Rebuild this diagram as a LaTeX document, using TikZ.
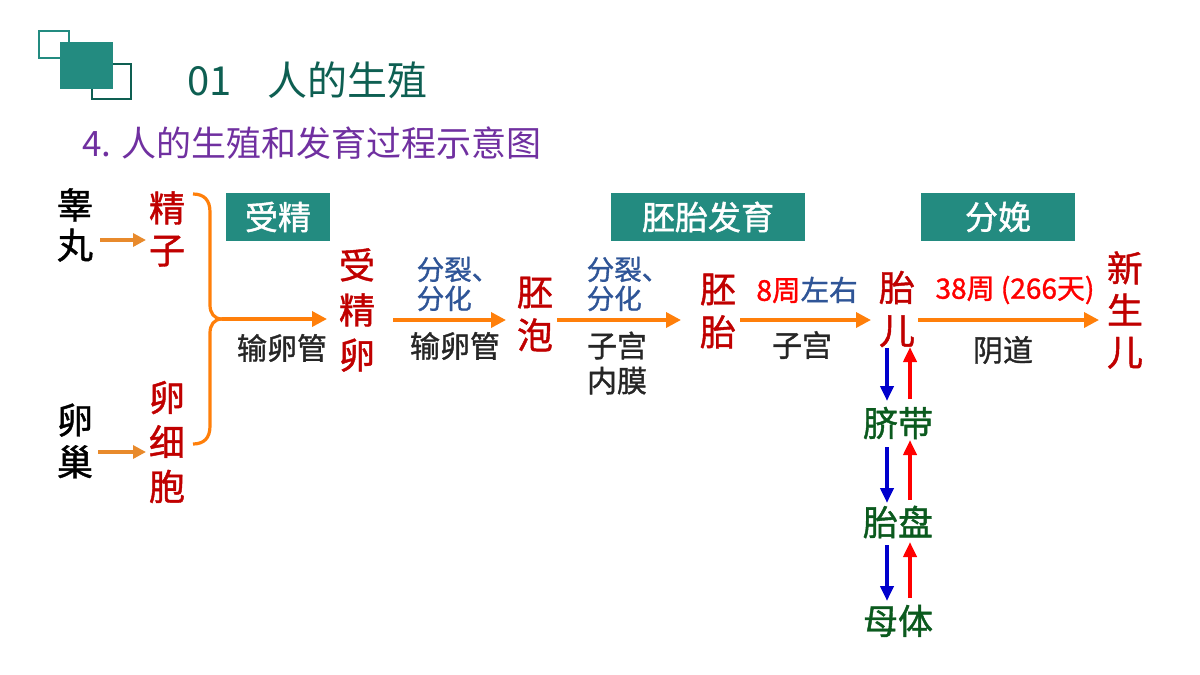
\documentclass[tikz,border=0pt]{standalone}
\usepackage{fontspec}
\setmainfont{Noto Sans CJK SC}
\newfontfamily\dfont{Noto Sans CJK SC}[FakeBold=1.2]
\usetikzlibrary{arrows.meta}
\definecolor{teal1}{HTML}{238B80}
\definecolor{teal2}{HTML}{0E5F52}
\definecolor{dred}{HTML}{C00000}
\definecolor{rred}{HTML}{FF0000}
\definecolor{dblue}{HTML}{2F5597}
\definecolor{orng}{HTML}{FF7F0A}
\definecolor{orng2}{HTML}{E88A2C}
\definecolor{purp}{HTML}{7030A0}
\definecolor{dgreen}{HTML}{0B5A1E}
\definecolor{dgray}{HTML}{262626}
\definecolor{bblue}{HTML}{0000CC}
\tikzset{
  organ/.style={font=\dfont\fontsize{36}{40}\selectfont, text=black, align=center, inner sep=0pt},
  stage/.style={font=\dfont\fontsize{36}{43}\selectfont, text=dred, align=center, inner sep=0pt},
  place/.style={font=\dfont\fontsize{30}{35}\selectfont, text=dgray, align=center, inner sep=0pt},
  proc/.style={font=\dfont\fontsize{27.5}{29}\selectfont, text=dblue, align=left, inner sep=0pt},
  tbox/.style={fill=teal1, text=white, font=\dfont\fontsize{33}{35}\selectfont, inner sep=0pt, minimum height=48pt},
  flow/.style={draw=orng, line width=3.5pt, -{Triangle[length=15pt,width=15pt]}},
  sflow/.style={draw=orng2, line width=3.5pt, -{Triangle[length=13pt,width=13pt]}},
  nut/.style={font=\dfont\fontsize{35}{37}\selectfont, text=dgreen, inner sep=0pt},
  bdown/.style={draw=bblue, line width=4.3pt, -{Triangle[length=15pt,width=13pt]}},
  rup/.style={draw=rred, line width=4.3pt, -{Triangle[length=15pt,width=13pt]}},
}
\begin{document}
\begin{tikzpicture}[x=1pt,y=-1pt]
\useasboundingbox (0,0) rectangle (1200,675);
% title decoration
\draw[teal1, line width=2.2pt] (39,31) rectangle (69,58);
\draw[teal2, line width=2.2pt] (92,64) rectangle (131,99);
\fill[teal1] (60,42) rectangle (113,89);
\node[anchor=west, text=teal2, font=\fontsize{40}{42}\selectfont, inner sep=0pt] (title) at (187,80) {01\hspace{36pt}人的生殖};
\node[anchor=west, text=purp, font=\fontsize{35}{37}\selectfont, inner sep=0pt] (sub) at (82,143) {4. 人的生殖和发育过程示意图};
% organs
\node[organ] (testis) at (75,225) {睾\\丸};
\node[organ, font=\dfont\fontsize{36}{42}\selectfont] (ovary) at (75,441) {卵\\巢};
\node[stage, font=\dfont\fontsize{36}{42}\selectfont] (sperm) at (167,229) {精\\子};
\node[stage, font=\dfont\fontsize{36}{44.5}\selectfont] (egg) at (167,442) {卵\\细\\胞};
\coordinate (ta) at (100,240);
\coordinate (tb) at (146,240);
\coordinate (oa) at (98,452);
\coordinate (ob) at (146,452);
\draw[sflow] (ta) -- (tb);
\draw[sflow] (oa) -- (ob);
% brace
\coordinate (br1) at (193,194);
\coordinate (br2) at (193,444);
\coordinate (brm) at (222,319);
\coordinate (brt) at (327,319);
\draw[orng, line width=3.2pt, line join=round] (br1) .. controls (204,194) and (210,200) .. (210,212) -- (210,305) .. controls (210,313) and (214,319) .. (222,319);
\draw[orng, line width=3.2pt, line join=round] (br2) .. controls (204,444) and (210,438) .. (210,426) -- (210,333) .. controls (210,325) and (214,319) .. (222,319);
\draw[flow] (brm) -- (brt);
% stages
\node[stage, font=\dfont\fontsize{36}{45}\selectfont] (zyg) at (357,310) {受\\精\\卵};
\node[place] (ovi1) at (282,348) {输卵管};
\node[tbox, minimum width=104pt] (b1) at (278,217) {受精};
\node[stage] (blast) at (535,314) {胚\\泡};
\node[stage] (embryo) at (718,311) {胚\\胎};
\node[stage] (fetus) at (897,309) {胎\\儿};
\node[stage, font=\dfont\fontsize{36}{42}\selectfont] (baby) at (1125,310) {新\\生\\儿};
\node[tbox, minimum width=194pt] (b2) at (708,217) {胚胎发育};
\node[tbox, minimum width=154pt] (b3) at (998,217) {分娩};
% arrows between stages
\coordinate (a1s) at (393,320);
\coordinate (a1e) at (506,320);
\draw[flow] (a1s) -- (a1e);
\node[proc] (p1) at (458,284) {分裂、\\分化};
\node[place] (ovi2) at (455,346) {输卵管};
\coordinate (a2s) at (557,320);
\coordinate (a2e) at (681,320);
\draw[flow] (a2s) -- (a2e);
\node[proc] (p2) at (628,284) {分裂、\\分化};
\node[place, align=left] (ut1) at (617,363) {子宫\\内膜};
\coordinate (a3s) at (740,320);
\coordinate (a3e) at (871,320);
\draw[flow] (a3s) -- (a3e);
\node[inner sep=0pt, font=\dfont\fontsize{28.5}{30}\selectfont] (w8) at (807,290) {\textcolor{rred}{8周}\textcolor{dblue}{左右}};
\node[place] (ut2) at (802,345) {子宫};
\coordinate (a4s) at (918,320);
\coordinate (a4e) at (1099,320);
\draw[flow] (a4s) -- (a4e);
\node[inner sep=0pt, text=rred, font=\dfont\fontsize{28}{30}\selectfont] (w38) at (1015,290) {38周 (266天)};
\node[place] (vag) at (1003,350) {阴道};
% exchange
\node[nut] (cord) at (898,423) {脐带};
\node[nut] (plac) at (898,522) {胎盘};
\node[nut] (mom) at (898,621) {母体};
\coordinate (d1s) at (887,348); \coordinate (d1e) at (887,401);
\coordinate (u1s) at (910,399); \coordinate (u1e) at (910,347);
\coordinate (d2s) at (887,447); \coordinate (d2e) at (887,503);
\coordinate (u2s) at (910,500); \coordinate (u2e) at (910,440);
\coordinate (d3s) at (887,545); \coordinate (d3e) at (887,601);
\coordinate (u3s) at (910,598); \coordinate (u3e) at (910,542);
\draw[bdown] (d1s) -- (d1e);
\draw[rup] (u1s) -- (u1e);
\draw[bdown] (d2s) -- (d2e);
\draw[rup] (u2s) -- (u2e);
\draw[bdown] (d3s) -- (d3e);
\draw[rup] (u3s) -- (u3e);
\end{tikzpicture}
\end{document}
